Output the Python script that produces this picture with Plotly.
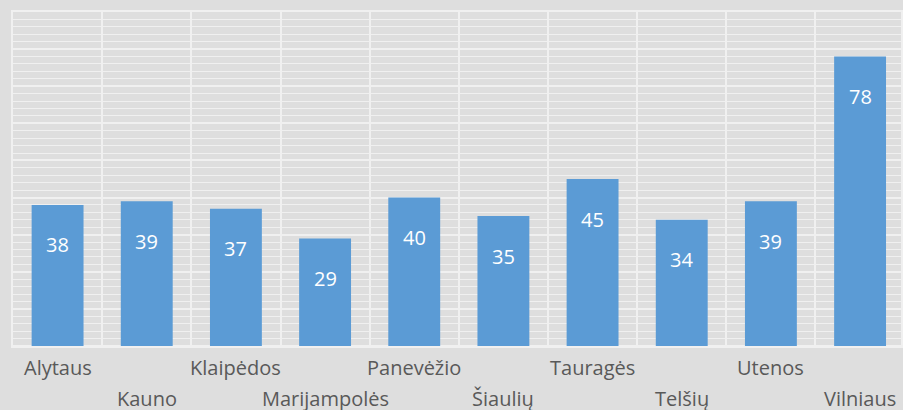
import plotly.graph_objects as go

categories = ["Alytaus", "Kauno", "Klaipėdos", "Marijampolės", "Panevėžio",
              "Šiaulių", "Tauragės", "Telšių", "Utenos", "Vilniaus"]
values = [38, 39, 37, 29, 40, 35, 45, 34, 39, 78]

BG = "#dedede"
GRID = "#f0f0f0"
BAR = "#5b9bd5"
TXT = "#595959"
FONT = "Open Sans"

x = list(range(len(categories)))

fig = go.Figure()
fig.add_trace(go.Bar(x=x, y=values, marker=dict(color=BAR, line=dict(width=0)),
                     hoverinfo="skip"))

annotations = []
for i, (c, v) in enumerate(zip(categories, values)):
    annotations.append(dict(x=i, y=v, xref="x", yref="y", text=str(v), showarrow=False,
                            yanchor="middle", yshift=-40,
                            font=dict(family=FONT, size=20, color="white")))
    annotations.append(dict(x=i, y=0, xref="x", yref="paper", text=c, showarrow=False,
                            yanchor="middle", yshift=-21 if i % 2 == 0 else -52,
                            font=dict(family=FONT, size=20, color=TXT)))

fig.update_layout(
    width=903, height=410,
    margin=dict(l=13, r=0, t=12, b=64),
    paper_bgcolor=BG, plot_bgcolor=BG,
    bargap=0.418,
    showlegend=False,
    annotations=annotations,
    xaxis=dict(range=[-0.5, 9.459], showticklabels=False, showgrid=False,
               zeroline=False, ticks="", showline=True, mirror=True,
               linecolor=GRID, linewidth=2,
               minor=dict(tickvals=[i - 0.5 for i in range(len(categories) + 1)],
                          showgrid=True, gridcolor=GRID, gridwidth=2, ticks="")),
    yaxis=dict(range=[0, 90], dtick=10, showticklabels=False, showgrid=True,
               gridcolor=GRID, gridwidth=2, zeroline=True, zerolinecolor=GRID,
               zerolinewidth=2, ticks="", showline=True, mirror=True,
               linecolor=GRID, linewidth=2,
               minor=dict(dtick=2, showgrid=True, gridcolor=GRID, gridwidth=1, ticks="")),
)

fig.write_html("out.html", config={"displayModeBar": False, "staticPlot": True})

with open("out.html", encoding="utf-8") as f:
    html = f.read()
html = html.replace("<head>", "<head><style>html,body{margin:0;padding:0;overflow:hidden;background:%s}</style>" % BG, 1)
with open("out.html", "w", encoding="utf-8") as f:
    f.write(html)
